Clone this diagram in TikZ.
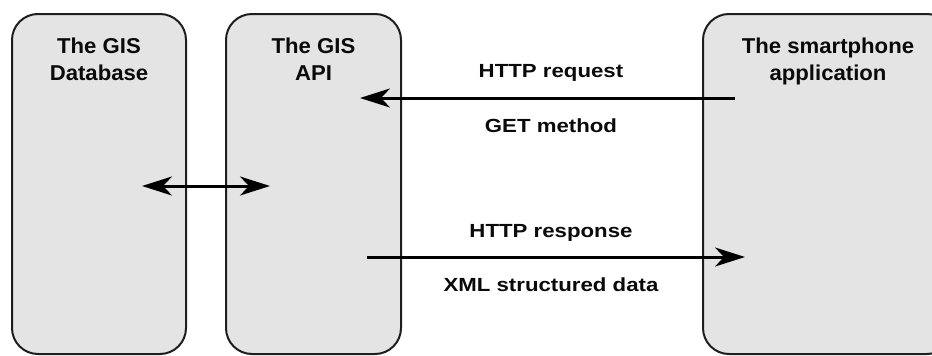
\documentclass[tikz,border=0pt]{standalone}
\usepackage{fontspec}
\setmainfont{Liberation Sans}
\newfontfamily\titlefont[FakeStretch=1.03]{Liberation Sans}
\newfontfamily\labelfont[FakeStretch=1.17]{Liberation Sans}
\usetikzlibrary{arrows.meta}
\definecolor{panelfill}{RGB}{228,228,228}
\definecolor{panelline}{RGB}{30,30,30}
\definecolor{inkcol}{RGB}{10,10,10}
\begin{document}
\begin{tikzpicture}[x=1pt,y=-1pt,
  panel/.style={draw=panelline, line width=2pt, fill=panelfill, rounded corners=26pt,
    inner sep=0pt, outer sep=0pt},
  ttl/.style={font=\titlefont\bfseries\fontsize{21.5}{27}\selectfont, text=inkcol,
    align=center, inner sep=0pt, anchor=base},
  lbl/.style={font=\labelfont\bfseries\fontsize{19}{23}\selectfont, text=inkcol,
    inner sep=0pt, anchor=base},
  tipst/.style={line width=3pt, draw=black},
  conn/.style={tipst, -{Stealth[length=30pt,width=19pt,inset=9pt]}},
  biconn/.style={tipst, {Stealth[length=30pt,width=19pt,inset=9pt]}-{Stealth[length=30pt,width=19pt,inset=9pt]}}]
\useasboundingbox (0,0) rectangle (932,356);
\begin{scope}
\clip (0,0) rectangle (932,356);
\node[panel, minimum width=174pt, minimum height=340pt] (db) at (99,184) {};
\node[panel, minimum width=175pt, minimum height=340pt] (api) at (313.5,184) {};
\node[panel, minimum width=250pt, minimum height=340pt] (app) at (828,184) {};
\end{scope}
% titles
\node[ttl] (dbt1) at (99,53) {The GIS};
\node[ttl] (dbt2) at (99,80) {Database};
\node[ttl] (apit1) at (313.5,53) {The GIS};
\node[ttl] (apit2) at (313.5,80) {API};
\node[ttl] (appt1) at (828,53) {The smartphone};
\node[ttl] (appt2) at (828,80) {application};
% labels
\node[lbl] (req) at (551,77) {HTTP request};
\node[lbl] (get) at (551,132) {GET method};
\node[lbl] (resp) at (551,237) {HTTP response};
\node[lbl] (xml) at (551,291) {XML structured data};
% connector end points
\coordinate (reqS) at (735,98);
\coordinate (reqE) at (360,98);
\coordinate (respS) at (367,257);
\coordinate (respE) at (745,257);
\coordinate (dbA) at (142,186);
\coordinate (apiA) at (270,186);
\draw[conn] (reqS) -- (reqE);
\draw[conn] (respS) -- (respE);
\draw[biconn] (dbA) -- (apiA);
\end{tikzpicture}
\end{document}
